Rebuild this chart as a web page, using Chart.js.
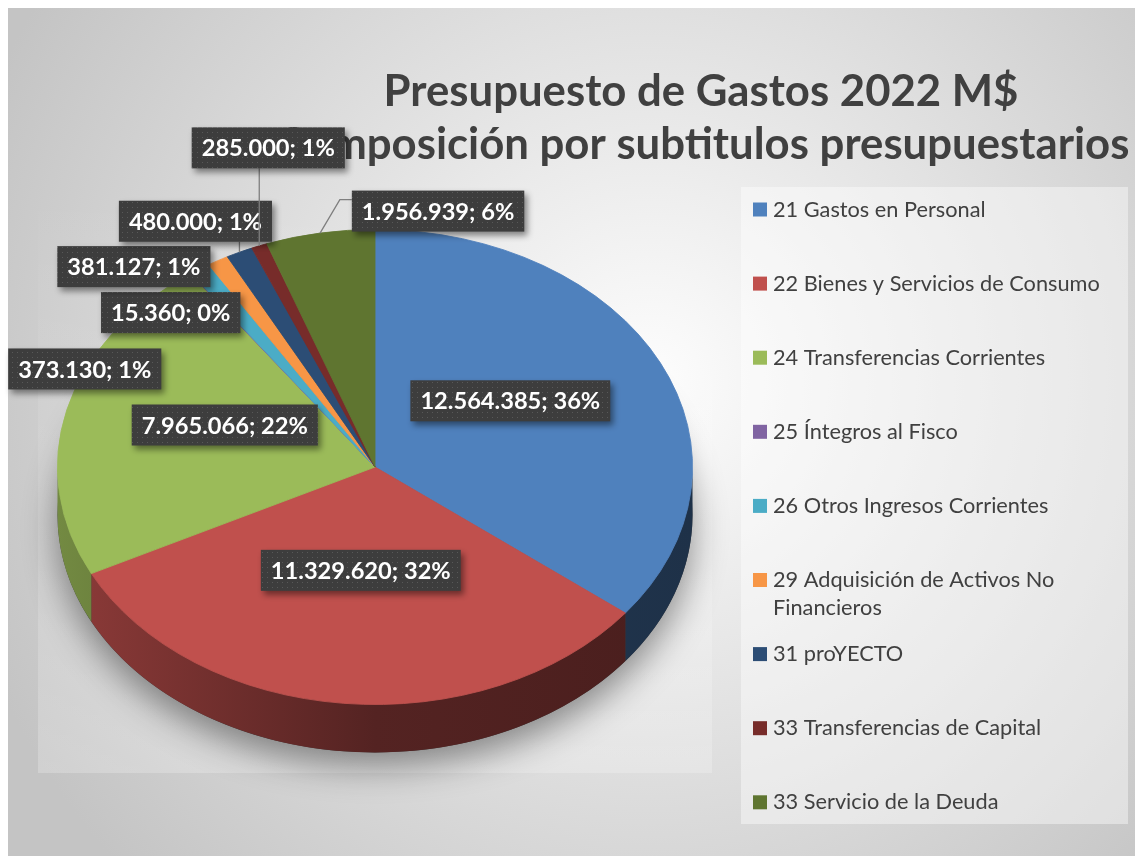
<!DOCTYPE html>
<html lang="es">
<head>
<meta charset="utf-8">
<title>Presupuesto de Gastos 2022 M$</title>
<script src="https://cdn.jsdelivr.net/npm/chart.js@4.4.1/dist/chart.umd.min.js"></script>
<style>
  html, body { margin: 0; padding: 0; background: #fff; }
  #wrap { width: 1135px; height: 856px; }
</style>
</head>
<body>
<div id="wrap"><canvas id="grafico" width="1135" height="856"></canvas></div>
<script>
/* Presupuesto de Gastos 2022 M$ — pastel 3D estilo Excel */

const CATEGORIAS = [
  "21 Gastos en Personal",
  "22 Bienes y Servicios de Consumo",
  "24 Transferencias Corrientes",
  "25 Íntegros al Fisco",
  "26 Otros Ingresos Corrientes",
  "29 Adquisición de Activos No Financieros",
  "31 proYECTO",
  "33 Transferencias de Capital",
  "33 Servicio de la Deuda",
];
const MONTOS = [12564385, 11329620, 7965066, 15360, 373130, 381127, 480000, 285000, 1956939];
const PORCENTAJES = [36, 32, 22, 0, 1, 1, 1, 1, 6];
const COLORES = ["#4F81BD", "#C0504D", "#9BBB59", "#8064A2", "#4BACC6", "#F79646", "#2C4D75", "#772C2A", "#5F7530"];

const TITULO = ["Presupuesto de Gastos 2022 M$", "Composición por subtitulos presupuestarios"];

// desplazamiento de cada etiqueta respecto del punto medio del borde de su porción
const DESPLAZ_ETIQUETAS = [
  [-150, 38], [17, -133], [158, 15], [-20, 39], [-115, 100],
  [-84, 6], [-44, -31], [9, -98], [118, -22],
];
const CON_GUIA = [false, false, false, false, false, false, true, true, true];

const INCLINACION = 0.748; // ry / rx
const PROFUNDIDAD = 48;
const FUENTE = "Lato, 'Open Sans', sans-serif";
const TEXTO = "#404040";

/* ---------- utilidades ---------- */
function fmtNum(n) {
  return String(n).replace(/\B(?=(\d{3})+(?!\d))/g, ".");
}

function sombrear(hex, f) {
  const n = parseInt(hex.slice(1), 16);
  const r = Math.round(((n >> 16) & 255) * f);
  const g = Math.round(((n >> 8) & 255) * f);
  const b = Math.round((n & 255) * f);
  return `rgb(${r},${g},${b})`;
}

function ajustarFuente(ctx, texto, ancho, peso) {
  ctx.font = `${peso} 100px ${FUENTE}`;
  return (100 * ancho) / ctx.measureText(texto).width;
}

function patronPuntos(ctx) {
  const c = document.createElement("canvas");
  c.width = 5;
  c.height = 5;
  const p = c.getContext("2d");
  p.fillStyle = "#3d3d3d";
  p.fillRect(0, 0, 5, 5);
  p.fillStyle = "#585858";
  p.fillRect(2, 2, 1, 1);
  return ctx.createPattern(c, "repeat");
}

/* ---------- fondo ---------- */
const fondo = {
  id: "fondo",
  beforeDraw(chart) {
    const { ctx, width, height } = chart;
    ctx.save();
    ctx.fillStyle = "#fff";
    ctx.fillRect(0, 0, width, height);
    const g = ctx.createRadialGradient(650, 380, 0, 650, 380, 720);
    g.addColorStop(0, "#fdfdfd");
    g.addColorStop(1, "#c4c4c4");
    ctx.fillStyle = g;
    ctx.fillRect(8, 8, width - 8, height - 8);
    // piso del área de trazado, apenas más claro hacia abajo
    const piso = ctx.createLinearGradient(0, 185, 0, 773);
    piso.addColorStop(0, "rgba(255,255,255,0)");
    piso.addColorStop(1, "rgba(255,255,255,0.22)");
    ctx.fillStyle = piso;
    ctx.fillRect(38, 185, 674, 588);
    ctx.fillStyle = "rgba(255,255,255,0.42)";
    ctx.fillRect(741, 187, 387, 637);
    ctx.restore();
  },
};

/* ---------- pastel 3D: sombra, paredes y tapa aplastada ---------- */
const pastel3d = {
  id: "pastel3d",
  beforeDatasetsDraw(chart) {
    const { ctx } = chart;
    const arcos = chart.getDatasetMeta(0).data;
    const cx = arcos[0].x, cy = arcos[0].y, rx = arcos[0].outerRadius;
    const ry = rx * INCLINACION;

    ctx.save();
    ctx.shadowColor = "rgba(0,0,0,0.42)";
    ctx.shadowBlur = 34;
    ctx.shadowOffsetY = 14;
    ctx.fillStyle = "#3a3a3a";
    ctx.beginPath();
    ctx.ellipse(cx, cy + PROFUNDIDAD, rx, ry, 0, 0, Math.PI * 2);
    ctx.fill();
    ctx.restore();

    arcos.forEach((arc, i) => {
      const a = Math.max(arc.startAngle, 0);
      const b = Math.min(arc.endAngle, Math.PI);
      if (b <= a) return;
      const g = ctx.createLinearGradient(cx - rx, 0, cx + rx, 0);
      g.addColorStop(0, sombrear(COLORES[i], 0.74));
      g.addColorStop(0.5, sombrear(COLORES[i], 0.44));
      g.addColorStop(1, sombrear(COLORES[i], 0.38));
      ctx.beginPath();
      ctx.ellipse(cx, cy, rx, ry, 0, a, b, false);
      ctx.ellipse(cx, cy + PROFUNDIDAD, rx, ry, 0, b, a, true);
      ctx.closePath();
      ctx.fillStyle = g;
      ctx.fill();
    });

    ctx.save();
    ctx.translate(cx, cy);
    ctx.scale(1, INCLINACION);
    ctx.translate(-cx, -cy);
  },
  afterDatasetsDraw(chart) {
    chart.ctx.restore();
  },
};

/* ---------- título, leyenda y etiquetas ---------- */
const textos = {
  id: "textos",
  afterDraw(chart) {
    const { ctx } = chart;
    ctx.save();

    // título
    const tt = ajustarFuente(ctx, TITULO[0], 635, "bold");
    ctx.font = `bold ${tt}px ${FUENTE}`;
    ctx.fillStyle = TEXTO;
    ctx.textAlign = "center";
    ctx.textBaseline = "alphabetic";
    ctx.fillText(TITULO[0], 701, 106);
    ctx.fillText(TITULO[1], 703, 159);

    // leyenda
    const tl = ajustarFuente(ctx, CATEGORIAS[1], 327, "normal");
    ctx.font = `normal ${tl}px ${FUENTE}`;
    ctx.textAlign = "left";
    ctx.textBaseline = "middle";
    CATEGORIAS.forEach((cat, i) => {
      const y = 209.5 + i * 74.1;
      ctx.fillStyle = COLORES[i];
      ctx.fillRect(753, y - 7, 14, 14);
      ctx.fillStyle = TEXTO;
      const palabras = cat.split(" ");
      let linea = "", ly = y;
      palabras.forEach((p) => {
        const prueba = linea ? linea + " " + p : p;
        if (ctx.measureText(prueba).width > 340 && linea) {
          ctx.fillText(linea, 773, ly);
          linea = p;
          ly += 28;
        } else {
          linea = prueba;
        }
      });
      ctx.fillText(linea, 773, ly);
    });

    // etiquetas de datos
    const arcos = chart.getDatasetMeta(0).data;
    const cx = arcos[0].x, cy = arcos[0].y, rx = arcos[0].outerRadius;
    const ry = rx * INCLINACION;
    const te = ajustarFuente(ctx, "12.564.385; 36%", 180, "bold");
    ctx.font = `bold ${te}px ${FUENTE}`;
    const puntos = patronPuntos(ctx);

    arcos.forEach((arc, i) => {
      const medio = (arc.startAngle + arc.endAngle) / 2;
      const ex = cx + rx * Math.cos(medio);
      const ey = cy + ry * Math.sin(medio);
      const texto = `${fmtNum(MONTOS[i])}; ${PORCENTAJES[i]}%`;
      const w = ctx.measureText(texto).width + 20;
      const h = 41;
      const bx = ex + DESPLAZ_ETIQUETAS[i][0] - w / 2;
      const by = ey + DESPLAZ_ETIQUETAS[i][1] - h / 2;

      if (CON_GUIA[i]) {
        ctx.strokeStyle = "#7f7f7f";
        ctx.lineWidth = 1.3;
        ctx.beginPath();
        ctx.moveTo(ex, ey);
        if (bx > ex) {
          ctx.lineTo(bx - 12, by + 9);
          ctx.lineTo(bx, by + 9);
        } else {
          ctx.lineTo(Math.min(Math.max(ex, bx), bx + w), by + h);
        }
        ctx.stroke();
      }

      ctx.save();
      ctx.shadowColor = "rgba(0,0,0,0.45)";
      ctx.shadowBlur = 6;
      ctx.shadowOffsetX = 3;
      ctx.shadowOffsetY = 4;
      ctx.fillStyle = puntos;
      ctx.fillRect(bx, by, w, h);
      ctx.restore();

      ctx.fillStyle = "#fff";
      ctx.textAlign = "center";
      ctx.textBaseline = "middle";
      ctx.fillText(texto, bx + w / 2, by + h / 2 + 1);
    });

    ctx.restore();
  },
};

new Chart(document.getElementById("grafico"), {
  type: "pie",
  data: {
    labels: CATEGORIAS,
    datasets: [
      {
        data: MONTOS,
        backgroundColor: COLORES,
        borderColor: COLORES,
        borderWidth: 1,
        hoverOffset: 0,
      },
    ],
  },
  options: {
    responsive: false,
    devicePixelRatio: 1,
    animation: false,
    events: [],
    layout: { padding: { left: 57, right: 442, top: 149, bottom: 71 } },
    plugins: {
      legend: { display: false },
      tooltip: { enabled: false },
      title: { display: false },
    },
  },
  plugins: [fondo, pastel3d, textos],
});
</script>
</body>
</html>
